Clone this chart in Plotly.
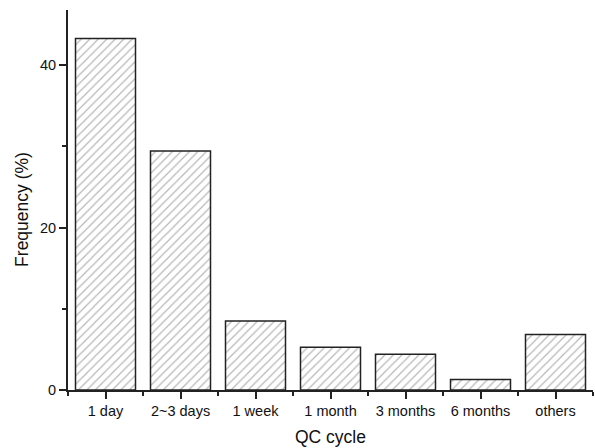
import plotly.graph_objects as go

# QC cycle frequency distribution
categories = ["1 day", "2~3 days", "1 week", "1 month", "3 months", "6 months", "others"]
frequency = [43.3, 29.45, 8.5, 5.25, 4.4, 1.3, 6.85]
y_ticks = [0, 20, 40]
y_minor_ticks = [10, 30]

positions = list(range(len(categories)))
boundaries = [p + 0.5 for p in [-1] + positions]

fig = go.Figure(
    go.Bar(
        x=positions,
        y=frequency,
        width=0.8,
        marker=dict(
            color="white",
            line=dict(color="#222222", width=1.5),
            pattern=dict(shape="/", fgcolor="#707070", bgcolor="white", size=6, solidity=0.2),
        ),
        showlegend=False,
    )
)

font_family = "Liberation Sans, Arial, sans-serif"
axis_font = dict(family=font_family, size=14.5, color="#111111")
title_font = dict(family=font_family, size=17.5, color="#111111")

fig.update_xaxes(
    range=[-0.5, len(categories) - 0.5],
    tickmode="array",
    tickvals=positions,
    ticktext=categories,
    ticks="outside",
    ticklen=7,
    tickwidth=1.5,
    tickcolor="#222222",
    showline=True,
    linecolor="#222222",
    linewidth=1.8,
    showgrid=False,
    zeroline=False,
    tickfont=axis_font,
    minor=dict(ticks="outside", ticklen=4, tickwidth=1.5, tickcolor="#222222",
               tickmode="array", tickvals=boundaries, showgrid=False),
    title=dict(text="QC cycle", font=title_font, standoff=12),
)

fig.update_yaxes(
    range=[0, 46.8],
    tickmode="array",
    tickvals=y_ticks,
    ticks="outside",
    ticklen=7,
    tickwidth=1.5,
    tickcolor="#222222",
    showline=True,
    linecolor="#222222",
    linewidth=1.8,
    showgrid=False,
    zeroline=False,
    tickfont=axis_font,
    minor=dict(ticks="outside", ticklen=4, tickwidth=1.5, tickcolor="#222222",
               tickmode="array", tickvals=y_minor_ticks, showgrid=False),
)

# y-axis title placed slightly below the plot's vertical centre
fig.add_annotation(
    text="Frequency (%)",
    textangle=-90,
    xref="paper", yref="paper",
    x=0, y=0.474,
    xanchor="center", yanchor="middle",
    xshift=-46,
    showarrow=False,
    font=title_font,
)

fig.update_layout(
    width=595,
    height=448,
    margin=dict(l=68, r=2, t=10, b=58),
    plot_bgcolor="white",
    paper_bgcolor="white",
    bargap=0.2,
)

fig.write_html("out.html")
